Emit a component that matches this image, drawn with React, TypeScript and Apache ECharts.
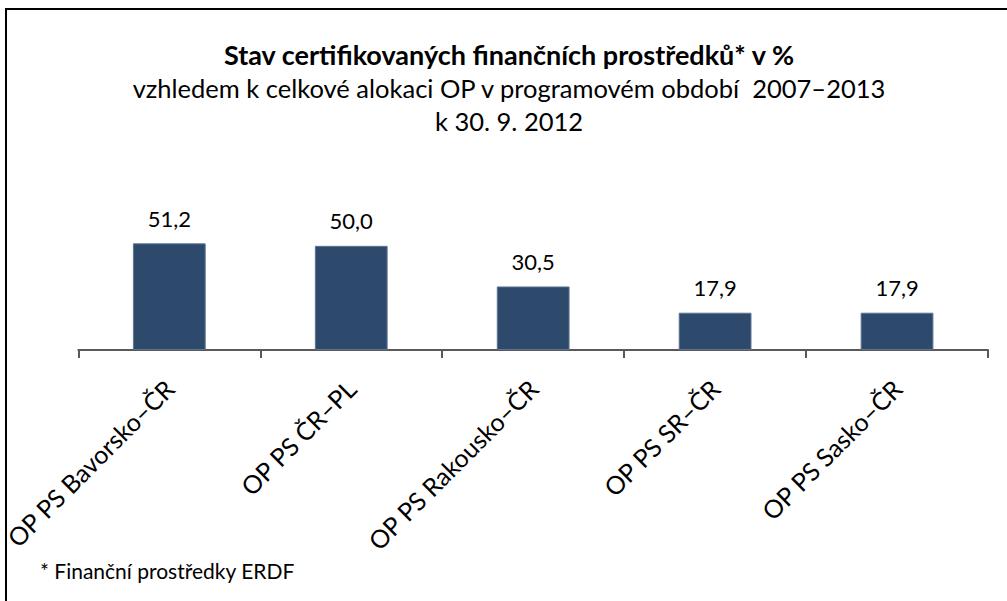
import React, { useEffect, useRef } from "react";
import * as echarts from "echarts";

const categories = [
  "OP PS Bavorsko–ČR",
  "OP PS ČR–PL",
  "OP PS Rakousko–ČR",
  "OP PS SR–ČR",
  "OP PS Sasko–ČR",
];
const values = [51.2, 50.0, 30.5, 17.9, 17.9];

const titleLines = [
  "Stav certifikovaných finančních prostředků* v %",
  "vzhledem k celkové alokaci OP v programovém období  2007–2013",
  "k 30. 9. 2012",
];
const footnote = "* Finanční prostředky ERDF";

const FONT = "Lato, 'Open Sans', sans-serif";

export default function App() {
  const ref = useRef<HTMLDivElement>(null);
  useEffect(() => {
    document.body.style.margin = "0";
    const chart = echarts.init(ref.current!, null, { renderer: "svg" });
    chart.setOption({
      animation: false,
      backgroundColor: "#ffffff",
      grid: { left: 77, right: 19, top: 225, bottom: 251, containLabel: false },
      xAxis: {
        type: "category",
        data: categories,
        axisLine: { lineStyle: { color: "#595959", width: 2 } },
        axisTick: { show: true, length: 8, lineStyle: { color: "#595959", width: 2 } },
        axisLabel: {
          rotate: 45,
          margin: 34,
          color: "#000",
          fontSize: 25,
          fontFamily: FONT,
          interval: 0,
        },
      },
      yAxis: {
        type: "value",
        min: 0,
        max: 60,
        show: false,
        splitLine: { show: false },
      },
      series: [
        {
          type: "bar",
          data: values,
          barWidth: "40%",
          itemStyle: { color: "#2D4A6C", borderColor: "#5E7491", borderWidth: 1 },
          label: {
            show: true,
            position: "top",
            distance: 14,
            color: "#000",
            fontSize: 22,
            fontFamily: FONT,
            formatter: (p: any) => Number(p.value).toFixed(1).replace(".", ","),
          },
        },
      ],
      graphic: [
        {
          type: "rect",
          shape: { x: 6, y: 9, width: 1020, height: 620 },
          style: { fill: "none", stroke: "#000", lineWidth: 2 },
          z: 10,
        },
        {
          type: "text",
          x: 509,
          y: 54,
          style: {
            text: titleLines[0],
            fontSize: 27,
            fontWeight: "bold",
            fontFamily: FONT,
            fill: "#000",
            align: "center",
            verticalAlign: "middle",
          },
        },
        {
          type: "text",
          x: 509,
          y: 88,
          style: {
            text: titleLines[1],
            fontSize: 25.5,
            fontFamily: FONT,
            fill: "#000",
            align: "center",
            verticalAlign: "middle",
          },
        },
        {
          type: "text",
          x: 509,
          y: 121,
          style: {
            text: titleLines[2],
            fontSize: 25.5,
            fontFamily: FONT,
            fill: "#000",
            align: "center",
            verticalAlign: "middle",
          },
        },
        {
          type: "text",
          x: 40,
          y: 570,
          style: {
            text: footnote,
            fontSize: 21,
            fontFamily: FONT,
            fill: "#000",
            align: "left",
            verticalAlign: "middle",
          },
        },
      ],
    });
    return () => chart.dispose();
  }, []);
  return <div ref={ref} style={{ width: 1007, height: 601 }} />;
}
